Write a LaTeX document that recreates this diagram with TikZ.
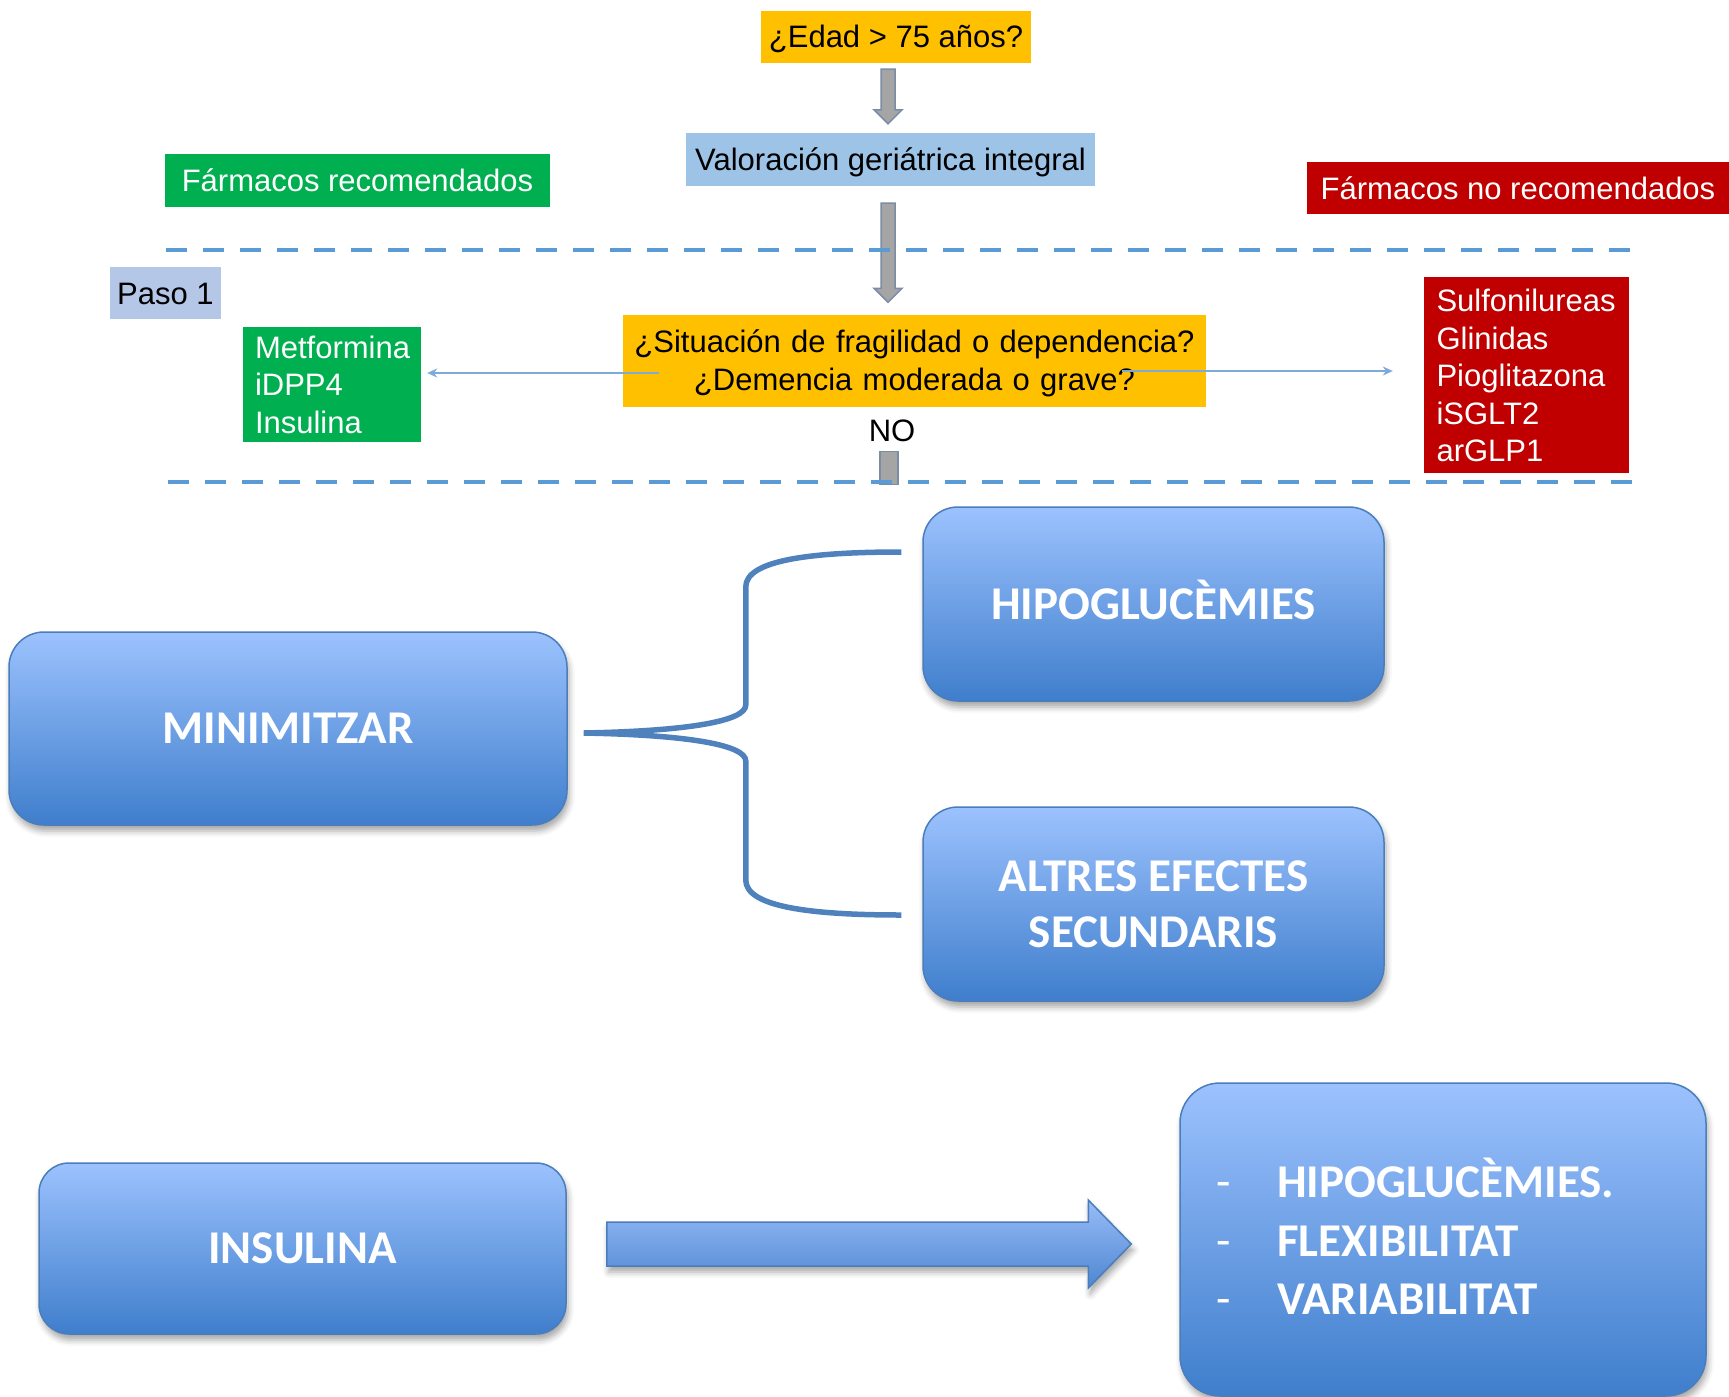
\documentclass[tikz,border=0pt]{standalone}
\usepackage{fontspec}
\setmainfont{Liberation Sans}
\newfontfamily\calfont{Carlito}
\usetikzlibrary{calc,arrows.meta,shadows.blur}

\definecolor{orangebox}{HTML}{FFC000}
\definecolor{greenbox}{HTML}{00B050}
\definecolor{redbox}{HTML}{C00000}
\definecolor{steelbox}{HTML}{9DC3E6}
\definecolor{pasobox}{HTML}{B4C7E7}
\definecolor{sepblue}{HTML}{5B9BD5}
\definecolor{thinblue}{HTML}{7EA9DB}
\definecolor{arrgray}{HTML}{A5A5A5}
\definecolor{arredge}{HTML}{7A8CA6}
\definecolor{gradtop}{HTML}{9CC2FE}
\definecolor{gradbot}{HTML}{3F7ECC}
\definecolor{frameblue}{HTML}{4A7EBB}
\definecolor{bracecol}{HTML}{4F81BD}
\definecolor{arrtop}{HTML}{98BCF8}
\definecolor{arrbot}{HTML}{4E87D1}

\newcommand\ftxt{\fontsize{31}{37.5}\selectfont}
\newcommand\fbig{\calfont\bfseries\fontsize{47}{56}\selectfont}

% vertical grey block arrow between two coordinates
\newcommand\greyblockarrow[2]{%
  \draw[grayarr] let \p1=(#1), \p2=(#2) in
    (\x1-7pt,\y1) -- (\x1+7pt,\y1) -- (\x1+7pt,\y2+14pt) -- (\x1+14pt,\y2+14pt)
    -- (\x1,\y2) -- (\x1-14pt,\y2+14pt) -- (\x1-7pt,\y2+14pt) -- cycle;}

\tikzset{
  flat/.style={rectangle, inner sep=0pt, font=\ftxt},
  capline/.style={text height=22pt, text depth=0pt},
  grayarr/.style={fill=arrgray, draw=arredge, line width=1.5pt},
  thinarr/.style={draw=thinblue, line width=1.6pt, -{Stealth[length=10pt,width=9pt]}},
  sepline/.style={draw=sepblue, line width=4pt, dash pattern=on 21pt off 16pt},
  softshadow/.style={blur shadow={shadow xshift=2pt, shadow yshift=-6pt,
      shadow blur radius=6pt, shadow opacity=35}},
  softbox/.style={rectangle, rounded corners=#1, draw=frameblue, line width=1.5pt,
      top color=gradtop, bottom color=gradbot, softshadow,
      text=white, font=\fbig, align=center, inner sep=0pt},
  softbox/.default=35pt,
  bracepath/.style={draw=bracecol, line width=5.5pt},
  bigarrow/.style={draw=frameblue, line width=1.5pt, top color=arrtop,
      bottom color=arrbot, softshadow},
  itemtext/.style={anchor=base west, text=white, font=\fbig, inner sep=0pt},
  itemdash/.style={anchor=base west, text=white,
      font=\calfont\fontsize{47}{56}\selectfont, inner sep=0pt},
}

\begin{document}
\begin{tikzpicture}[x=1pt, y=-1pt]
\useasboundingbox (0,0) rectangle (1729,1397);
\clip (0,0) rectangle (1729,1397);

% ---- flow chart, upper part ----
\node[flat, capline, fill=orangebox, minimum width=270pt, minimum height=52pt] (edad)
  at (896,37) {¿Edad > 75 años?};
\node[flat, capline, fill=steelbox, minimum width=409pt, minimum height=53pt] (valor)
  at (890.5,159.5) {Valoración geriátrica integral};
\node[flat, fill=orangebox, minimum width=583pt, minimum height=92pt,
      text width=570pt, align=center, text height=22pt, text depth=37.5pt] (quest)
  at (914.5,360.5) {¿Situación de fragilidad o dependencia?\\¿Demencia moderada o grave?};

\node[flat, capline, fill=greenbox, text=white, minimum width=385pt, minimum height=53pt] (recom)
  at (357.5,180.5) {Fármacos recomendados};
\node[flat, capline, fill=redbox, text=white, minimum width=422pt, minimum height=52pt] (norecom)
  at (1518,188) {Fármacos no recomendados};
\node[flat, capline, fill=pasobox, minimum width=111pt, minimum height=52pt] (paso)
  at (165.5,293) {Paso 1};

\node[flat, fill=greenbox, text=white, minimum width=178pt, minimum height=115pt,
      text width=154pt, align=left, text height=22pt, text depth=75pt] (greenlist)
  at (332,384.5) {Metformina\\iDPP4\\Insulina};
\node[flat, fill=redbox, text=white, minimum width=205pt, minimum height=196pt,
      text width=180pt, align=left, text height=22pt, text depth=149pt] (redlist)
  at (1526.5,375) {Sulfonilureas\\Glinidas\\Pioglitazona\\iSGLT2\\arGLP1};

\node[flat, capline] (no) at (892,430.5) {NO};

% grey block arrows
\coordinate (a1s) at ($(edad.south)+(-8,6)$);
\coordinate (a1e) at ($(valor.north)+(-2.5,-9)$);
\coordinate (a2s) at ($(valor.south)+(-2.5,17)$);
\coordinate (a2e) at ($(quest.north)+(-26.5,-12)$);
\greyblockarrow{a1s}{a1e}
\greyblockarrow{a2s}{a2e}
\draw[grayarr] ($(no.south)+(-12,10)$) rectangle ($(no.south)+(6,43)$);

% thin side arrows
\coordinate (lstart) at ($(quest.west)+(36,12.5)$);
\coordinate (rstart) at ($(quest.east)+(-84,10.5)$);
\draw[thinarr] (lstart) -- ($(greenlist.east |- lstart)+(6,0)$);
\draw[thinarr] (rstart) -- ($(redlist.west |- rstart)+(-31,0)$);

% separators
\draw[sepline] (166,250) -- (1640,250);
\draw[sepline] (168,482) -- (1641,482);

% ---- MINIMITZAR block ----
\node[softbox, minimum width=558pt, minimum height=193pt] (mini)
  at (288,728.5) {MINIMITZAR};
\node[softbox, minimum width=461pt, minimum height=194pt] (hipo)
  at (1153.5,604) {\vphantom{H}\smash{HIPOGLUCÈMIES}};
\node[softbox, minimum width=461pt, minimum height=194pt] (altres)
  at (1153.5,904) {ALTRES EFECTES\\SECUNDARIS};

\coordinate (btop) at ($(hipo.west)+(-21,-52)$);
\coordinate (bbot) at ($(altres.west)+(-21,11)$);
\coordinate (btip) at ($(mini.east)+(16,4.5)$);
\draw[bracepath] let \p1=(btop), \p2=(btip), \p3=(bbot) in
  (\p1) .. controls (\x1-90pt,\y1) and (\x2+162pt,\y1-8pt) .. (\x2+162pt,\y1-35pt)
  -- (\x2+162pt,\y2+28pt)
  .. controls (\x2+162pt,\y2+12pt) and (\x2+105pt,\y2+2pt) .. (\p2)
  .. controls (\x2+105pt,\y2-2pt) and (\x2+162pt,\y2-12pt) .. (\x2+162pt,\y2-28pt)
  -- (\x2+162pt,\y3+35pt)
  .. controls (\x2+162pt,\y3+8pt) and (\x3-90pt,\y3) .. (\p3);

% ---- INSULINA block ----
\node[softbox=30pt, minimum width=527pt, minimum height=171pt] (insulina)
  at (302.5,1248.5) {\raisebox{-2pt}{INSULINA}};
\node[softbox=40pt, minimum width=526pt, minimum height=313pt] (rbox)
  at (1443,1239.5) {};

\node[itemdash] (d1) at (1216,1197) {-};
\node[itemdash] (d2) at (1216,1256) {-};
\node[itemdash] (d3) at (1216,1314) {-};
\node[itemtext] (t1) at (1277,1197) {HIPOGLUCÈMIES.};
\node[itemtext] (t2) at (1277,1256) {FLEXIBILITAT};
\node[itemtext] (t3) at (1277,1314) {VARIABILITAT};

\coordinate (bas) at ($(insulina.east)+(40,-4.5)$);
\coordinate (bae) at ($(rbox.west)+(-48,4.5)$);
\path[bigarrow] let \p1=(bas), \p2=(bae) in
  (\x1,\y1+22pt) -- (\x2-43pt,\y1+22pt) -- (\x2-43pt,\y1+44pt) -- (\p2)
  -- (\x2-43pt,\y1-44pt) -- (\x2-43pt,\y1-22pt) -- (\x1,\y1-22pt) -- cycle;
\end{tikzpicture}
\end{document}
